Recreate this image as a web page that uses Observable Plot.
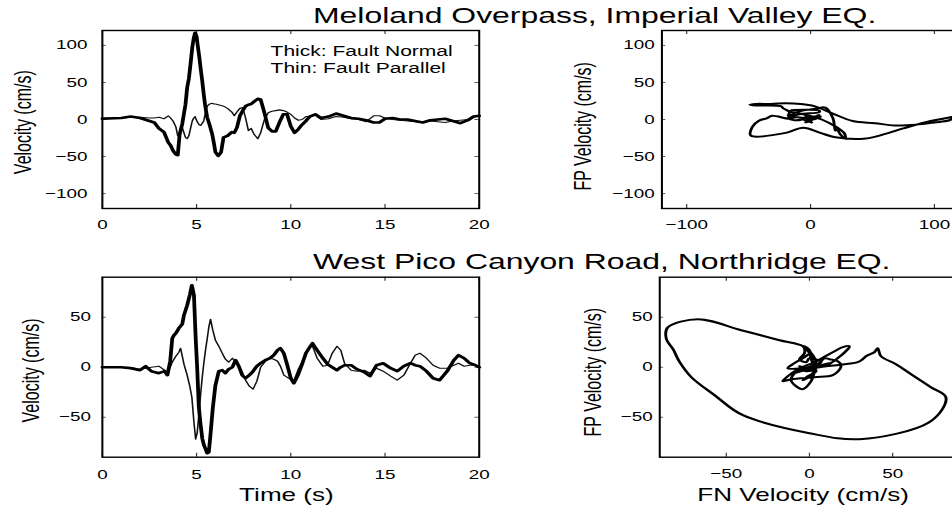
<!DOCTYPE html>
<html><head><meta charset="utf-8">
<script src="https://cdn.jsdelivr.net/npm/d3@7"></script>
<script src="https://cdn.jsdelivr.net/npm/@observablehq/plot@0.6"></script>
<style>
html,body{margin:0;padding:0;background:#fff;overflow:hidden;width:952px;height:506px;}
#fig{position:absolute;left:0;top:0;width:657px;height:506px;transform:scaleX(1.45);transform-origin:0 0;font-family:"Liberation Sans",Arial,Helvetica,sans-serif;color:#000;}
.title{position:absolute;white-space:nowrap;font-size:22px;letter-spacing:0px;line-height:1;}
</style></head><body><div id="fig"></div>
<script>
// ---------- data ----------
const titles = ["Meloland Overpass, Imperial Valley EQ.", "West Pico Canyon Road, Northridge EQ."];
const legendText = "Thick: Fault Normal\nThin: Fault Parallel";

// Meloland Overpass (Imperial Valley): time (s), fault-normal & fault-parallel velocity (cm/s)
const meloT = [0,1,1.5,2,2.5,2.75,3,3.27,3.5,3.62,
  3.75,3.9,4,4.1,4.24,4.33,4.41,4.5,4.59,4.68,
  4.77,4.85,4.92,5,5.06,5.14,5.22,5.3,5.38,5.46,
  5.56,5.7,5.83,5.92,6,6.15,6.3,6.43,6.64,6.87,
  7,7.14,7.3,7.45,7.6,7.75,7.9,8.05,8.25,8.4,
  8.6,8.8,9,9.2,9.4,9.6,9.8,10,10.2,10.4,
  10.6,10.8,11,11.3,11.6,12,12.4,12.8,13.2,13.6,
  14,14.4,14.7,15,15.4,15.8,16.2,16.6,17,17.4,
  17.8,18.2,18.6,19,19.4,19.7,20];
const meloFN = [1,2,4,2,-2,-4,-12,-17,-31,-35,
  -42,-47,-48,-20,-6,8,20,43,55,75,
  97,110,117,112,100,85,68,52,34,18,
  3,-8,-20,-32,-44,-49,-44,-24,-22,-17,
  -18,-11,5,12,18,20,21,24,28,27,
  9,-11,-16,-16,-4,7,7,-9,-18,-13,
  -7,-2,4,7,2,4,8,5,2,1,
  -1,-4,-4,1,2,0,0,-2,-4,-1,
  0,1,-2,-5,-1,4,5];
const meloFP = [2,2,3,3,2,2,3,1,5,2,
  -2,-10,-22,-18,-11,-18,-24,-26,-22,-12,
  -2,2,4,-1,-4,-7,-8,-5,-2,8,
  18,21,22,21,21,20,19,18,15,10,
  5,10,15,16,2,-15,-12,-20,-26,-18,
  0,9,11,12,13,12,10,7,2,-1,
  0,4,4,6,0,1,4,3,1,0,
  -3,5,5,2,0,-1,-2,-3,-4,-2,
  -3,-4,-2,-1,0,3,5];

// West Pico Canyon Road (Northridge)
const picoT = [0,1,1.5,2,2.3,2.6,3,3.3,3.45,3.6,
  3.71,3.8,3.9,4.06,4.15,4.24,4.33,4.5,4.65,4.75,
  4.86,4.95,5.03,5.12,5.21,5.3,5.39,5.48,5.56,5.65,
  5.74,5.86,6,6.18,6.36,6.53,6.7,6.9,7.07,7.24,
  7.42,7.6,7.8,8,8.2,8.4,8.65,8.9,9.1,9.3,
  9.45,9.63,9.8,10,10.16,10.4,10.6,10.8,11,11.15,
  11.4,11.7,11.95,12.2,12.45,12.65,12.85,13.2,13.5,13.9,
  14.2,14.55,14.9,15.3,15.65,16,16.35,16.6,16.85,17.2,
  17.55,17.9,18.3,18.65,18.9,19.2,19.5,19.8,20];
const picoFN = [0,0,-1,-3,1,-4,-6,-4,-8,6,
  29,32,34,39,41,43,52,62,73,82,
  72,30,0,-40,-57,-71,-78,-82,-86,-85,
  -67,-41,-18,-4,-3,-6,-2,0,7,1,
  -8,-11,-8,-4,1,4,7,9,12,17,
  19,14,3,-11,-16,-7,3,14,20,24,
  17,9,3,0,-3,0,2,2,-2,-5,
  -9,2,4,-1,-4,1,4,2,1,-4,
  -11,-13,-4,7,12,9,4,2,0];
const picoFP = [0,0,0,-2,-1,0,1,-3,-5,0,
  5,8,11,15,19,11,3,-8,-20,-30,
  -55,-72,-66,-48,-28,-10,5,18,28,40,
  48,37,27,21,14,8,5,9,5,1,
  -5,-13,-19,-22,-14,0,6,9,8,6,
  1,-8,-10,-12,-14,-2,5,15,20,21,
  9,1,2,14,21,17,4,-3,-4,-3,
  -6,-1,-4,-9,-13,-8,4,12,14,9,
  2,-1,-1,2,4,1,2,2,0];

// ticks and labels
const timeTicks = [0, 5, 10, 15, 20];
const meloVelTicks = [-100, -50, 0, 50, 100];
const meloFNTicks = [-100, 0, 100];
const picoVelTicks = [-50, 0, 50];
const picoFNTicks = [-50, 0, 50];
const velLabel = "Velocity (cm/s)";
const fpLabel = "FP Velocity (cm/s)";
const fnLabel = "FN Velocity (cm/s)";
const timeLabel = "Time (s)";

// ---------- drawing ----------
const melo = meloT.map((t, i) => ({t, fn: meloFN[i], fp: meloFP[i]}));
const pico = picoT.map((t, i) => ({t, fn: picoFN[i], fp: picoFP[i]}));
const fig = document.getElementById("fig");
const FONT = '"Liberation Sans", Arial, Helvetica, sans-serif';

function panel(o) {
  const iw = o.width - o.ml - o.mr, ih = o.height - o.mt - o.mb;
  const tk = {stroke: "#333", strokeWidth: 0.8};
  const marks = [
    Plot.ruleX(o.xTicks, {x: d => d, insetTop: ih - 4, ...tk}),
    Plot.ruleX(o.xTicks, {x: d => d, insetBottom: ih - 4, ...tk}),
    Plot.ruleY(o.yTicks, {y: d => d, insetRight: iw - 2.8, ...tk}),
    Plot.ruleY(o.yTicks, {y: d => d, insetLeft: iw - 2.8, ...tk}),
    ...o.marks,
    Plot.frame({stroke: "#000", strokeWidth: 1.4}),
    Plot.axisX(o.xTicks, {tickSize: 0, tickPadding: o.xPad, label: null, fontSize: 13}),
    Plot.axisY(o.yTicks, {tickSize: 0, tickPadding: o.yPad, label: null, fontSize: 13}),
    Plot.text([o.yLabel], {text: d => d, frameAnchor: "left", rotate: -90, dx: o.yLabelDx, dy: o.yLabelDy,
      lineAnchor: "top", textAnchor: "middle", fontSize: 16})
  ];
  if (o.xLabel) marks.push(Plot.text([o.xLabel], {text: d => d, frameAnchor: "bottom", dx: o.xLabelDx, dy: 30.6,
      lineAnchor: "top", textAnchor: "middle", fontSize: 18}));
  const svg = Plot.plot({
    width: o.width, height: o.height,
    marginLeft: o.ml, marginRight: o.mr, marginTop: o.mt, marginBottom: o.mb,
    x: {domain: o.xDomain}, y: {domain: o.yDomain},
    style: {fontFamily: FONT, fontSize: "13px", overflow: "visible", background: "transparent", color: "#000"},
    marks
  });
  svg.style.position = "absolute";
  svg.style.left = o.left + "px";
  svg.style.top = o.top + "px";
  fig.appendChild(svg);
}

// top-left: time histories, Meloland
panel({left: 0, top: 0, width: 334, height: 250, ml: 70.1, mr: 4, mt: 30, mb: 42,
  xDomain: [0, 20], yDomain: [-120, 120], xTicks: timeTicks, yTicks: meloVelTicks,
  xPad: 11.5, yPad: 10.3, yLabel: velLabel, yLabelDx: -60.9, yLabelDy: 2.7,
  marks: [
    Plot.line(melo, {x: "t", y: "fp", stroke: "#111", strokeWidth: 1.1}),
    Plot.line(melo, {x: "t", y: "fn", stroke: "#000", strokeWidth: 2.6}),
    Plot.text([legendText], {text: d => d, frameAnchor: "top-left", dx: 116, dy: 13, lineAnchor: "top",
      textAnchor: "start", fontSize: 14.5, lineHeight: 1.2})
  ]});

// top-right: particle motion, Meloland
panel({left: 390, top: 0, width: 275, height: 250, ml: 66, mr: 4, mt: 30, mb: 42,
  xDomain: [-120, 120], yDomain: [-120, 120], xTicks: meloFNTicks, yTicks: meloVelTicks,
  xPad: 11.5, yPad: 5, yLabel: fpLabel, yLabelDx: -60.5, yLabelDy: 6.8,
  marks: [
    Plot.line(melo, {x: "fn", y: "fp", stroke: "#000", strokeWidth: 2, curve: "catmull-rom"})
  ]});

// bottom-left: time histories, West Pico
panel({left: 0, top: 250, width: 334, height: 256, ml: 70.1, mr: 4, mt: 26.7, mb: 49.3,
  xDomain: [0, 20], yDomain: [-90, 90], xTicks: timeTicks, yTicks: picoVelTicks,
  xPad: 12.8, yPad: 7.8, yLabel: velLabel, yLabelDx: -55, yLabelDy: 3.3,
  xLabel: timeLabel, xLabelDx: -3,
  marks: [
    Plot.line(pico, {x: "t", y: "fp", stroke: "#111", strokeWidth: 1.1}),
    Plot.line(pico, {x: "t", y: "fn", stroke: "#000", strokeWidth: 2.6})
  ]});

// bottom-right: particle motion, West Pico
panel({left: 390, top: 250, width: 275, height: 256, ml: 64.5, mr: 4, mt: 26.7, mb: 49.3,
  xDomain: [-90, 90], yDomain: [-90, 90], xTicks: picoFNTicks, yTicks: picoVelTicks,
  xPad: 11.2, yPad: 4.8, yLabel: fpLabel, yLabelDx: -52.2, yLabelDy: 5,
  xLabel: fnLabel, xLabelDx: -4.4,
  marks: [
    Plot.line(pico, {x: "fn", y: "fp", stroke: "#000", strokeWidth: 2, curve: "catmull-rom"})
  ]});

// titles
[[titles[0], 215.9, 4.9], [titles[1], 215.9, 251.4]].forEach(([txt, x, y]) => {
  const d = document.createElement("div");
  d.className = "title";
  d.textContent = txt;
  d.style.left = x + "px";
  d.style.top = y + "px";
  fig.appendChild(d);
});
</script></body></html>
